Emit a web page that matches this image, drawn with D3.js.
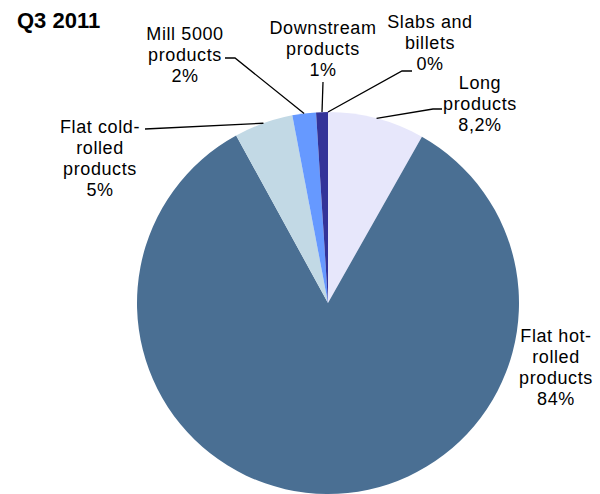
<!DOCTYPE html>
<html>
<head>
<meta charset="utf-8">
<script src="https://cdn.jsdelivr.net/npm/d3@7"></script>
<style>
  html, body { margin: 0; padding: 0; background: #fff; }
  svg { display: block; }
  text { font-family: "Liberation Sans", Arial, sans-serif; fill: #000; }
</style>
</head>
<body>
<svg id="chart" width="600" height="494"></svg>
<script>
// Sales structure by product group, Q3 2011 (% of total)
const title = "Q3 2011";
const categories = [
  "Long products",
  "Flat hot-rolled products",
  "Flat cold-rolled products",
  "Mill 5000 products",
  "Downstream products",
  "Slabs and billets"
];
const shares = [8.2, 84, 5, 2, 1, 0];
const shareDecimals = [1, 0, 0, 0, 0, 0];
// Label text broken into lines (category part only)
const labelLines = [
  ["Long", "products"],
  ["Flat hot-", "rolled", "products"],
  ["Flat cold-", "rolled", "products"],
  ["Mill 5000", "products"],
  ["Downstream", "products"],
  ["Slabs and", "billets"]
];
const colors = ["#E7E7FB", "#4A6F93", "#C2D9E5", "#6699FF", "#333399", "#99CCFF"];

// Layout: label anchors (centre x, first baseline) and leader-line start points
const layout = {
  cx: 328, cy: 303, r: 191,
  lineHeight: 21,
  labels: [
    { x: 480, y: 89,  leader: [[442, 109], [433, 109]] },
    { x: 556, y: 342, leader: null },
    { x: 100, y: 133, leader: [[145, 129]] },
    { x: 185, y: 40,  leader: [[225, 58], [235, 58]] },
    { x: 323, y: 34,  leader: [[323, 82]] },
    { x: 430, y: 28,  leader: [[412, 71], [402, 71]] }
  ]
};

const fmt = (v, d) => v.toFixed(d).replace(".", ",") + "%";

const svg = d3.select("#chart");

const data = categories.map((c, i) => ({ name: c, value: shares[i], i }));
const pie = d3.pie().sort(null).value(d => d.value).startAngle(0).endAngle(2 * Math.PI);
const arcs = pie(data);
const arc = d3.arc().innerRadius(0).outerRadius(layout.r);

const g = svg.append("g").attr("transform", `translate(${layout.cx},${layout.cy})`);

g.selectAll("path.slice")
  .data(arcs)
  .join("path")
  .attr("class", "slice")
  .attr("d", arc)
  .attr("fill", d => colors[d.data.i]);

// Leader lines from label to the slice edge
const line = d3.line();
arcs.forEach(a => {
  const L = layout.labels[a.data.i];
  if (!L.leader) return;
  const mid = (a.startAngle + a.endAngle) / 2;
  const edge = [layout.cx + layout.r * Math.sin(mid), layout.cy - layout.r * Math.cos(mid)];
  svg.append("path")
    .attr("d", line([...L.leader, edge]))
    .attr("fill", "none")
    .attr("stroke", "#000")
    .attr("stroke-width", 1.3);
});

// Data labels
arcs.forEach(a => {
  const i = a.data.i;
  const L = layout.labels[i];
  const lines = [...labelLines[i], fmt(shares[i], shareDecimals[i])];
  const t = svg.append("text")
    .attr("x", L.x)
    .attr("y", L.y)
    .attr("text-anchor", "middle")
    .style("font-size", "18px")
    .style("letter-spacing", "0.6px");
  lines.forEach((s, k) => {
    t.append("tspan")
      .attr("x", L.x)
      .attr("y", L.y + k * layout.lineHeight)
      .text(s);
  });
});

svg.append("text")
  .attr("x", 17)
  .attr("y", 28)
  .style("font-size", "22px")
  .style("font-weight", "bold")
  .text(title);
</script>
</body>
</html>
